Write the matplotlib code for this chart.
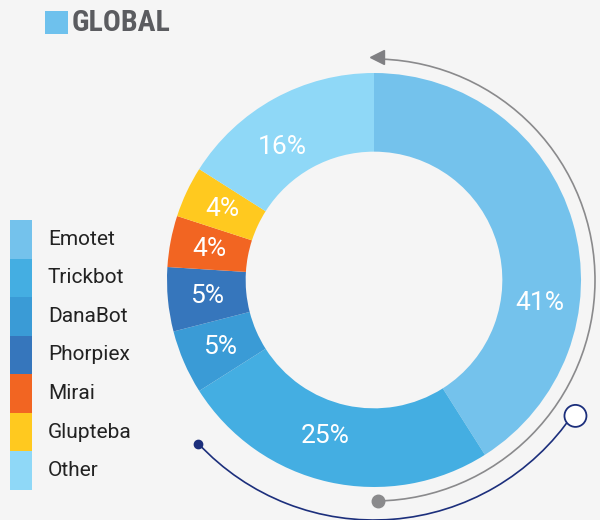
import numpy as np
import matplotlib.pyplot as plt
from matplotlib.patches import Arc, Circle, Rectangle

# botnet share, global
families = ['Emotet', 'Trickbot', 'DanaBot', 'Phorpiex', 'Mirai', 'Glupteba', 'Other']
shares = [41, 25, 5, 5, 4, 4, 16]
colors = ['#74C2EC', '#44AEE2', '#3A9BD6', '#3676BC', '#F26522', '#FFC91F', '#8FD8F7']

# label nudges (deg off the wedge middle, radius as share of outer radius)
label_shift = [-24, -4.7, 0, 0, 0, 0, 5.8]
label_r = [0.81, 0.79, 0.81, 0.81, 0.81, 0.81, 0.78]

bg = '#F5F5F5'
W, H = 600, 520

fig = plt.figure(figsize=(6, 5.2), dpi=100, facecolor=bg)
ax = fig.add_axes([0, 0, 1, 1])
ax.set_facecolor(bg)

# donut
cx, cy, r = 374, 240, 207
wedges, _, pcts = ax.pie(
    shares, colors=colors, startangle=90, counterclock=False,
    center=(cx, cy), radius=r, frame=True,
    wedgeprops=dict(width=r * 0.38, linewidth=0),
    autopct=lambda p: f'{round(p)}%', pctdistance=0.81,
    textprops=dict(color='white', fontsize=19, family='Roboto'))
for w, t, d, k in zip(wedges, pcts, label_shift, label_r):
    ang = np.deg2rad((w.theta1 + w.theta2) / 2 + d)
    t.set_position((cx + k * r * np.cos(ang), cy + k * r * np.sin(ang)))

ax.set_xlim(0, W)
ax.set_ylim(0, H)
ax.set_aspect('equal')
ax.axis('off')

# grey arc with arrow
rg = 221
ax.add_patch(Arc((cx, cy), 2 * rg, 2 * rg, theta1=-89, theta2=88,
                 color='#8A8A8C', lw=1.2))
ax.plot(cx + 4, cy - rg, 'o', color='#8A8A8C', ms=9)
ax.plot(cx + 3, cy + rg + 2, '<', color='#808083', ms=10)

# navy arc
navy = '#1C2F7C'
rn = 240
ax.add_patch(Arc((cx, cy), 2 * rn, 2 * rn, theta1=223, theta2=326,
                 color=navy, lw=1.2))
a0 = np.deg2rad(223)
ax.plot(cx + rn * np.cos(a0), cy + rn * np.sin(a0), 'o', color=navy, ms=6)
a1 = np.deg2rad(326)
ax.add_patch(Circle((cx + (rn + 3) * np.cos(a1), cy + (rn + 3) * np.sin(a1)), 11,
                    facecolor='white', edgecolor=navy, lw=1.3, zorder=5))

# title
ax.add_patch(Rectangle((45, 486), 23, 23, color='#6EC1ED', lw=0))
ax.text(72, 497, 'GLOBAL', fontsize=21.5, fontweight='bold',
        family='Roboto Condensed', color='#5B5C60', va='center', ha='left')

# legend
top, bottom = 300, 30
step = (top - bottom) / len(families)
for i, (name, c) in enumerate(zip(families, colors)):
    y0 = top - (i + 1) * step
    ax.add_patch(Rectangle((10, y0), 22, step, color=c, lw=0))
    ax.text(48, y0 + step / 2, name, fontsize=15, family='Roboto',
            color='#222222', va='center', ha='left')

fig.savefig('out.png', dpi=100, facecolor=bg)
